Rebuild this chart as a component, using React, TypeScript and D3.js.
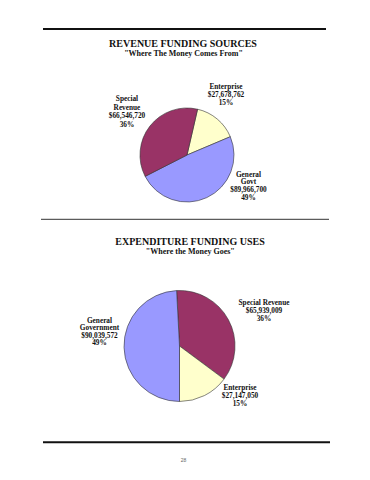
import React from "react";
import * as d3 from "d3";

const revenueCategories = ["Enterprise", "General Govt", "Special Revenue"];
const revenueValues = [27678762, 89966700, 66546720];
const revenueLabels = [
  ["Enterprise", "$27,678,762", "15%"],
  ["General", "Govt", "$89,966,700", "49%"],
  ["Special", "Revenue", "$66,546,720", "36%"],
];

const expenditureCategories = ["Special Revenue", "Enterprise", "General Government"];
const expenditureValues = [65939009, 27147050, 90039572];
const expenditureLabels = [
  ["Special Revenue", "$65,939,009", "36%"],
  ["Enterprise", "$27,147,050", "15%"],
  ["General", "Government", "$90,039,572", "49%"],
];

const revenueColors = ["#FFFFCC", "#9999FF", "#993366"];
const expenditureColors = ["#993366", "#FFFFCC", "#9999FF"];

const FONT = "'Liberation Serif', 'Times New Roman', serif";

type PieProps = {
  values: number[];
  colors: string[];
  cx: number;
  cy: number;
  r: number;
  startDeg: number;
};

function Pie({ values, colors, cx, cy, r, startDeg }: PieProps) {
  const start = (startDeg * Math.PI) / 180;
  const pie = d3
    .pie<number>()
    .sort(null)
    .value((d) => d)
    .startAngle(start)
    .endAngle(start + 2 * Math.PI);
  const arc = d3.arc<d3.PieArcDatum<number>>().innerRadius(0).outerRadius(r);
  const arcs = pie(values);
  return (
    <g transform={`translate(${cx},${cy})`}>
      {arcs.map((a, i) => (
        <path
          key={i}
          d={arc(a) || ""}
          fill={colors[i]}
          stroke="#333"
          strokeWidth={0.6}
        />
      ))}
    </g>
  );
}

function Label({ lines, x, y, dy = 8.2 }: { lines: string[]; x: number; y: number; dy?: number }) {
  return (
    <text
      x={x}
      y={y}
      textAnchor="middle"
      fontFamily={FONT}
      fontWeight="bold"
      fontSize={7.3}
      fill="#111"
    >
      {lines.map((l, i) => (
        <tspan key={i} x={x} y={y + i * dy}>
          {l}
        </tspan>
      ))}
    </text>
  );
}

export default function App() {
  return (
    <svg
      width={370}
      height={480}
      style={{ position: "absolute", left: 0, top: 0, background: "#fff" }}
    >
      <rect x={0} y={0} width={370} height={480} fill="#fff" />
      <line x1={43} x2={326} y1={29} y2={29} stroke="#111" strokeWidth={2} />

      <text x={183} y={46.5} textAnchor="middle" fontFamily={FONT} fontWeight="bold" fontSize={10} fill="#111">
        REVENUE FUNDING SOURCES
      </text>
      <text x={183.5} y={56} textAnchor="middle" fontFamily={FONT} fontWeight="bold" fontSize={8} fill="#111">
        "Where The Money Comes From"
      </text>

      <Pie values={revenueValues} colors={revenueColors} cx={187} cy={155} r={47} startDeg={13} />
      <Label lines={revenueLabels[0]} x={226} y={88.5} />
      <Label lines={revenueLabels[1]} x={248.5} y={176.5} dy={7.8} />
      <Label lines={revenueLabels[2]} x={127} y={101} dy={8.5} />

      <line x1={41} x2={329} y1={219.3} y2={219.3} stroke="#333" strokeWidth={1} />

      <text x={190} y={245} textAnchor="middle" fontFamily={FONT} fontWeight="bold" fontSize={10} fill="#111">
        EXPENDITURE FUNDING USES
      </text>
      <text x={190.3} y={254.3} textAnchor="middle" fontFamily={FONT} fontWeight="bold" fontSize={8} fill="#111">
        "Where the Money Goes"
      </text>

      <Pie values={expenditureValues} colors={expenditureColors} cx={179.5} cy={346} r={55.5} startDeg={-3} />
      <Label lines={expenditureLabels[0]} x={264} y={305} dy={8} />
      <Label lines={expenditureLabels[1]} x={240} y={390} dy={7.8} />
      <Label lines={expenditureLabels[2]} x={99.5} y={322.7} dy={7.5} />

      <line x1={43} x2={330} y1={442.3} y2={442.3} stroke="#111" strokeWidth={2} />
      <text x={183.5} y={462} textAnchor="middle" fontFamily="'Liberation Sans', Arial, sans-serif" fontSize={5} fill="#666">
        28
      </text>
    </svg>
  );
}
